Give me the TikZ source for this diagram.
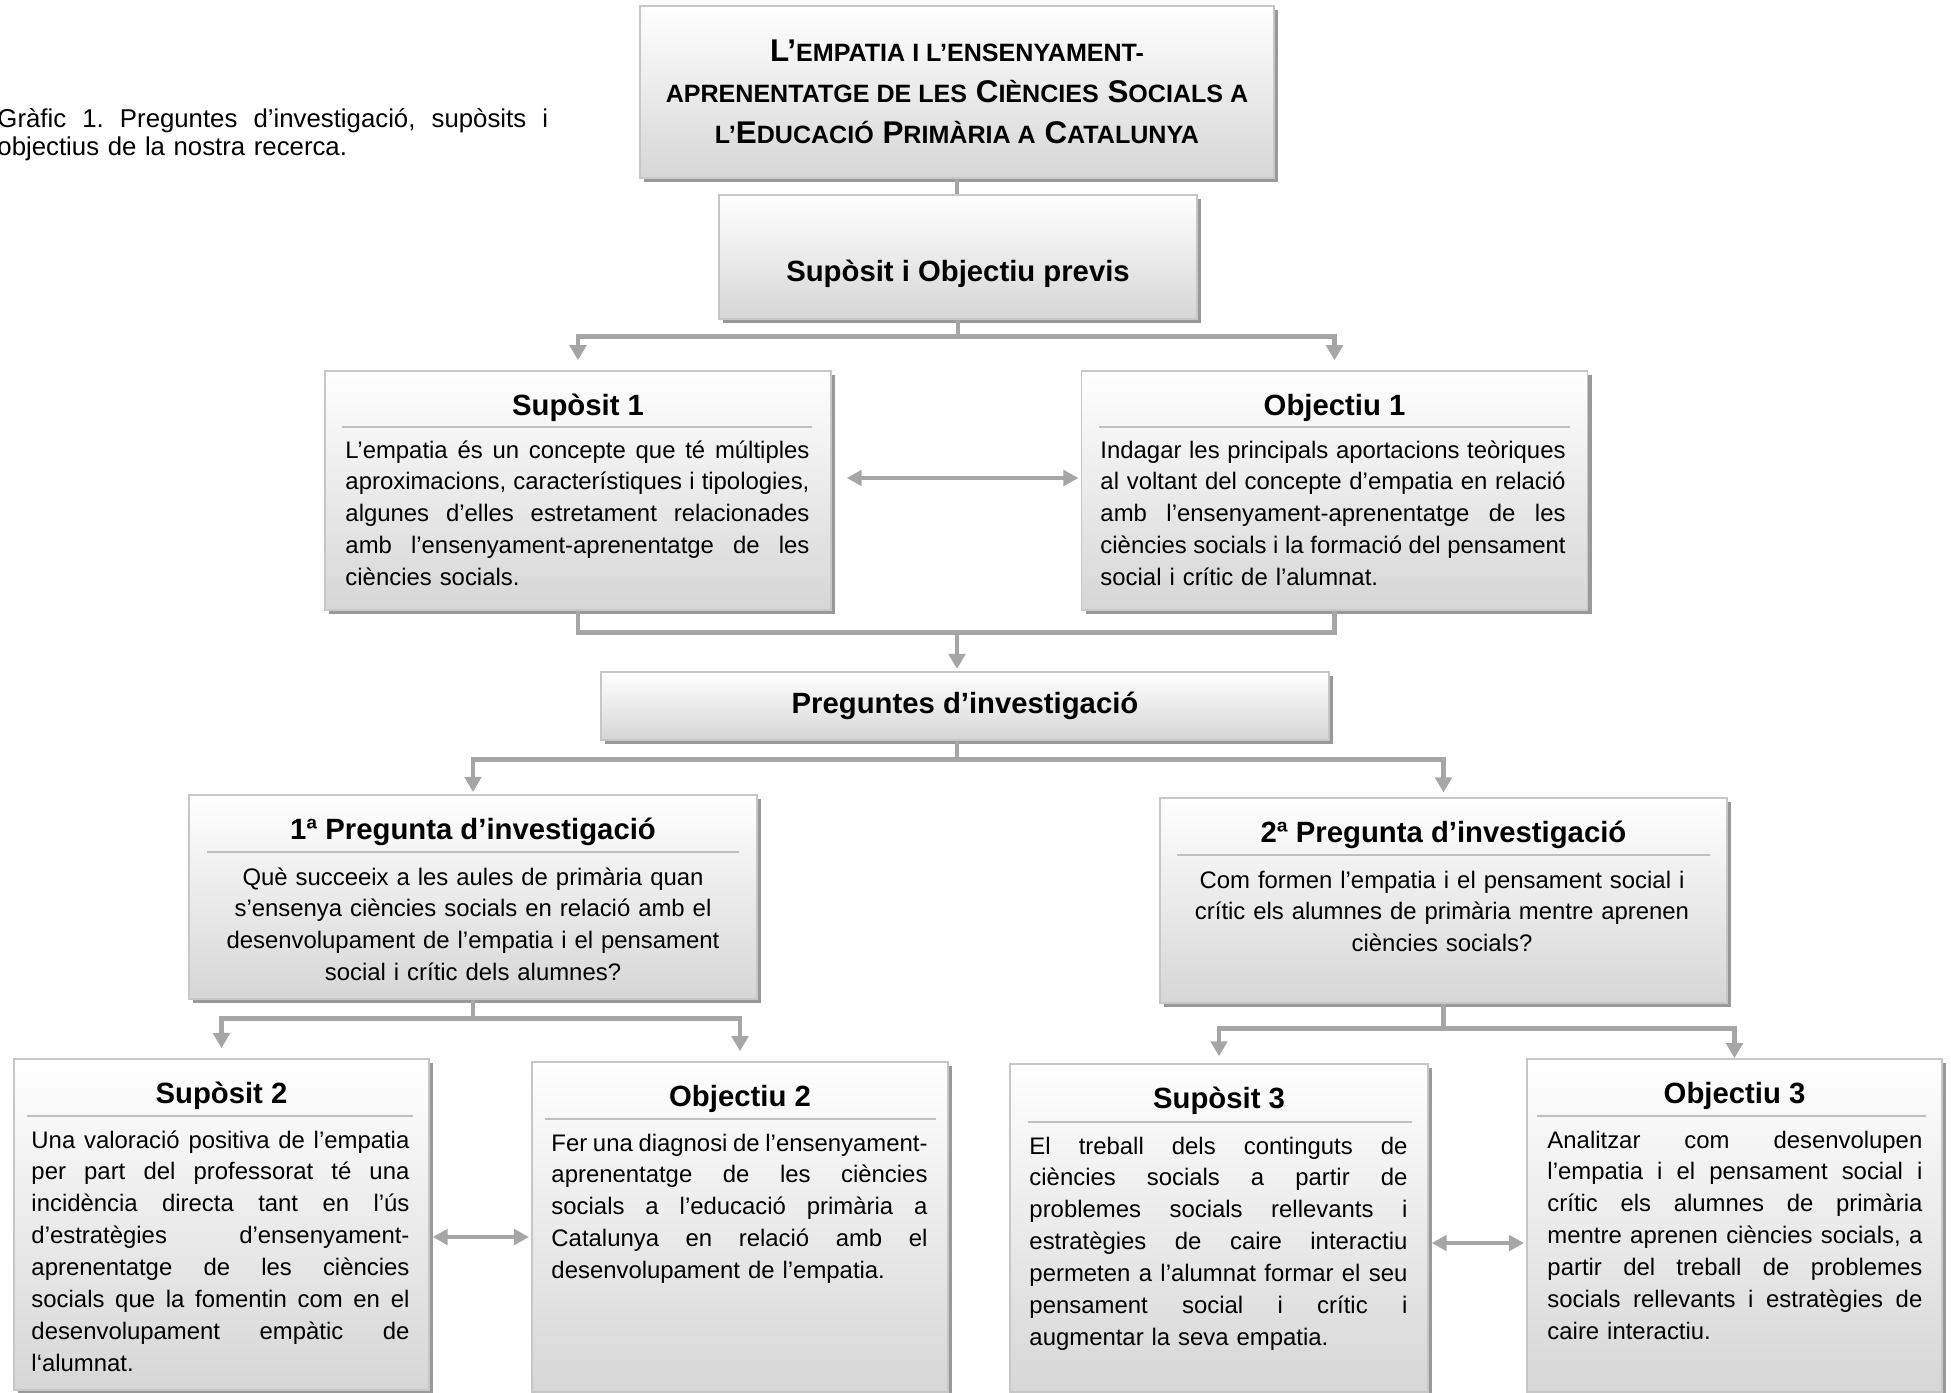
\documentclass[tikz,border=0pt]{standalone}
\usepackage{fontspec}
\setmainfont{Liberation Sans}
\usetikzlibrary{arrows.meta,shadows,calc}
\frenchspacing
\newcommand{\tsc}[1]{{\fontsize{10.7}{17.5}\selectfont\MakeUppercase{#1}}}
\newcommand{\jline}[1]{\leavevmode\hbox to\hsize{\spaceskip=0.278em plus 1fil minus 0.12em\relax #1}\par}

\begin{document}
\begin{tikzpicture}[x=0.15cm,y=0.15cm]
\tikzstyle{every node}+=[inner sep=0pt]
\tikzstyle{box}=[draw=black!22, line width=0.6pt, top color=white, bottom color=black!16, drop shadow={shadow xshift=1.8pt, shadow yshift=-1.8pt, fill=black!40, opacity=1}]
\tikzstyle{head}=[font=\fontsize{12.5}{15}\selectfont\bfseries]
\tikzstyle{body}=[font=\fontsize{10.2}{13.6}\selectfont]
\tikzstyle{sepline}=[draw=black!25, line width=0.8pt]
\tikzstyle{conn}=[draw=black!35, line width=2.1pt]
\tikzstyle{arr}=[conn, -{Triangle[width=7pt,length=6.4pt]}]
\tikzstyle{dbl}=[conn, {Triangle[width=6.6pt,length=6.4pt]}-{Triangle[width=6.6pt,length=6.4pt]}]
\useasboundingbox (0,0) rectangle (195.1,-139.2);
% caption
\node[anchor=base west, text width=235pt, font=\fontsize{11}{12}\selectfont] (caption) at (-0.3,-12.7) {\jline{Gràfic 1. Preguntes d’investigació, supòsits i}objectius de la nostra recerca.};
% title and previous
\node[box, minimum width=9.51cm, minimum height=2.58cm, align=center, font=\fontsize{13.4}{17.5}\selectfont\bfseries] (title) at (95.7,-9.2) {L’\tsc{empatia i l’ensenyament-}\\\tsc{aprenentatge de les} C\tsc{iències} S\tsc{ocials a}\\\tsc{l’}E\tsc{ducació} P\tsc{rimària a} C\tsc{atalunya}};
\node[box, minimum width=7.17cm, minimum height=1.86cm] (previs) at (95.8,-25.7) {};
\node[head] (previst) at (95.8,-27.4) {Supòsit i Objectiu previs};
% level 1
\node[box, minimum width=7.59cm, minimum height=3.585cm] (sup1) at (57.8,-49.05) {};
\node[head, anchor=base] (sup1h) at (57.8,-41.5) {Supòsit 1};
\draw[sepline] (34.2,-42.7) -- (81.2,-42.7);
\node[body, anchor=base west, text width=198pt] (sup1t) at (34.5,-45.8) {\jline{L’empatia és un concepte que té múltiples}\jline{aproximacions, característiques i tipologies,}\jline{algunes d’elles estretament relacionades}\jline{amb l’ensenyament-aprenentatge de les}ciències socials.};
\node[box, minimum width=7.59cm, minimum height=3.585cm] (obj1) at (133.45,-49.05) {};
\node[head, anchor=base] (obj1h) at (133.45,-41.5) {Objectiu 1};
\draw[sepline] (109.9,-42.7) -- (157.0,-42.7);
\node[body, anchor=base west, text width=198.5pt] (obj1t) at (110.0,-45.8) {\jline{Indagar les principals aportacions teòriques}\jline{al voltant del concepte d’empatia en relació}\jline{amb l’ensenyament-aprenentatge de les}\jline{ciències socials i la formació del pensament}social i crític de l’alumnat.};
% questions
\node[box, minimum width=10.92cm, minimum height=1.02cm, head] (preg) at (96.5,-70.6) {Preguntes d’investigació};
\node[box, minimum width=8.52cm, minimum height=3.06cm] (q1) at (47.3,-89.7) {};
\node[head, anchor=base] (q1h) at (47.3,-83.9) {1ª Pregunta d’investigació};
\draw[sepline] (20.7,-85.2) -- (73.9,-85.2);
\node[body, anchor=base, text width=226pt, align=center] (q1t) at (47.3,-88.5) {Què succeeix a les aules de primària quan\\ s’ensenya ciències socials en relació amb el\\ desenvolupament de l’empatia i el pensament\\ social i crític dels alumnes?};
\node[box, minimum width=8.5cm, minimum height=3.08cm] (q2) at (144.35,-90.05) {};
\node[head, anchor=base] (q2h) at (144.35,-84.2) {2ª Pregunta d’investigació};
\draw[sepline] (117.7,-85.5) -- (171.0,-85.5);
\node[body, anchor=base, text width=226pt, align=center] (q2t) at (144.2,-88.8) {Com formen l’empatia i el pensament social i\\ crític els alumnes de primària mentre aprenen\\ ciències socials?};
% level 3
\node[box, minimum width=6.225cm, minimum height=4.965cm] (sup2) at (22.15,-122.45) {};
\node[head, anchor=base] (sup2h) at (22.15,-110.3) {Supòsit 2};
\draw[sepline] (2.7,-111.6) -- (41.3,-111.6);
\node[body, anchor=base west, text width=161.3pt] (sup2t) at (3.1,-114.8) {\jline{Una valoració positiva de l’empatia}\jline{per part del professorat té una}\jline{incidència directa tant en l’ús}\jline{d’estratègies d’ensenyament-}\jline{aprenentatge de les ciències}\jline{socials que la fomentin com en el}\jline{desenvolupament empàtic de}l‘alumnat.};
\node[box, minimum width=6.24cm, minimum height=4.95cm] (obj2) at (74.0,-122.7) {};
\node[head, anchor=base] (obj2h) at (74.0,-110.6) {Objectiu 2};
\draw[sepline] (54.5,-111.9) -- (93.6,-111.9);
\node[body, anchor=base west, text width=160.5pt] (obj2t) at (55.1,-115.1) {\jline{Fer una diagnosi de l’ensenyament-}\jline{aprenentatge de les ciències}\jline{socials a l’educació primària a}\jline{Catalunya en relació amb el}desenvolupament de l’empatia.};
\node[box, minimum width=6.27cm, minimum height=4.92cm] (sup3) at (121.9,-122.8) {};
\node[head, anchor=base] (sup3h) at (121.9,-110.8) {Supòsit 3};
\draw[sepline] (102.8,-112.2) -- (141.2,-112.2);
\node[body, anchor=base west, text width=161.3pt] (sup3t) at (102.9,-115.4) {\jline{El treball dels continguts de}\jline{ciències socials a partir de}\jline{problemes socials rellevants i}\jline{estratègies de caire interactiu}\jline{permeten a l’alumnat formar el seu}\jline{pensament social i crític i}augmentar la seva empatia.};
\node[box, minimum width=6.225cm, minimum height=5.0cm] (obj3) at (173.45,-122.55) {};
\node[head, anchor=base] (obj3h) at (173.45,-110.3) {Objectiu 3};
\draw[sepline] (153.7,-111.6) -- (192.6,-111.6);
\node[body, anchor=base west, text width=160pt] (obj3t) at (154.7,-114.8) {\jline{Analitzar com desenvolupen}\jline{l’empatia i el pensament social i}\jline{crític els alumnes de primària}\jline{mentre aprenen ciències socials, a}\jline{partir del treball de problemes}\jline{socials rellevants i estratègies de}caire interactiu.};
% connectors
\draw[conn] (title.south) -- (title.south |- previs.north);
\draw[conn] (previs.south) -- ++(0,-1.7) coordinate (b1);
\draw[arr, shorten >=4.3pt] (b1) -| (sup1.north);
\draw[arr, shorten >=4.3pt] (b1) -| (obj1.north);
\draw[conn] (sup1.south) -- ++(0,-2.2) -| (obj1.south);
\coordinate (m1) at (95.7,-63.2);
\draw[arr, shorten >=1pt] (m1) -- (m1 |- preg.north);
\draw[conn] (m1 |- preg.south) -- ++(0,-1.9) coordinate (b2);
\draw[arr, shorten >=1pt] (b2) -| (q1.north);
\draw[arr, shorten >=2pt] (b2) -| (q2.north);
\draw[conn] (q1.south) -- ++(0,-1.9) coordinate (b3);
\draw[arr, shorten >=4.3pt] (b3) -| (sup2.north);
\draw[arr, shorten >=4.3pt] (b3) -| (obj2.north);
\draw[conn] (q2.south) -- ++(0,-2.5) coordinate (b4);
\draw[arr, shorten >=3pt] (b4) -| (sup3.north);
\draw[arr] (b4) -| (obj3.north);
\coordinate (d1) at ($(sup1.east)+(1.5,1.25)$);
\draw[dbl, shorten >=1pt] (d1) -- (d1 -| obj1.west);
\coordinate (d2) at ($(sup2.east)+(0.3,-1.25)$);
\draw[dbl, shorten >=1pt] (d2) -- (d2 -| obj2.west);
\coordinate (d3) at ($(sup3.east)+(0.3,-1.5)$);
\draw[dbl, shorten >=1pt] (d3) -- (d3 -| obj3.west);
\end{tikzpicture}
\end{document}
